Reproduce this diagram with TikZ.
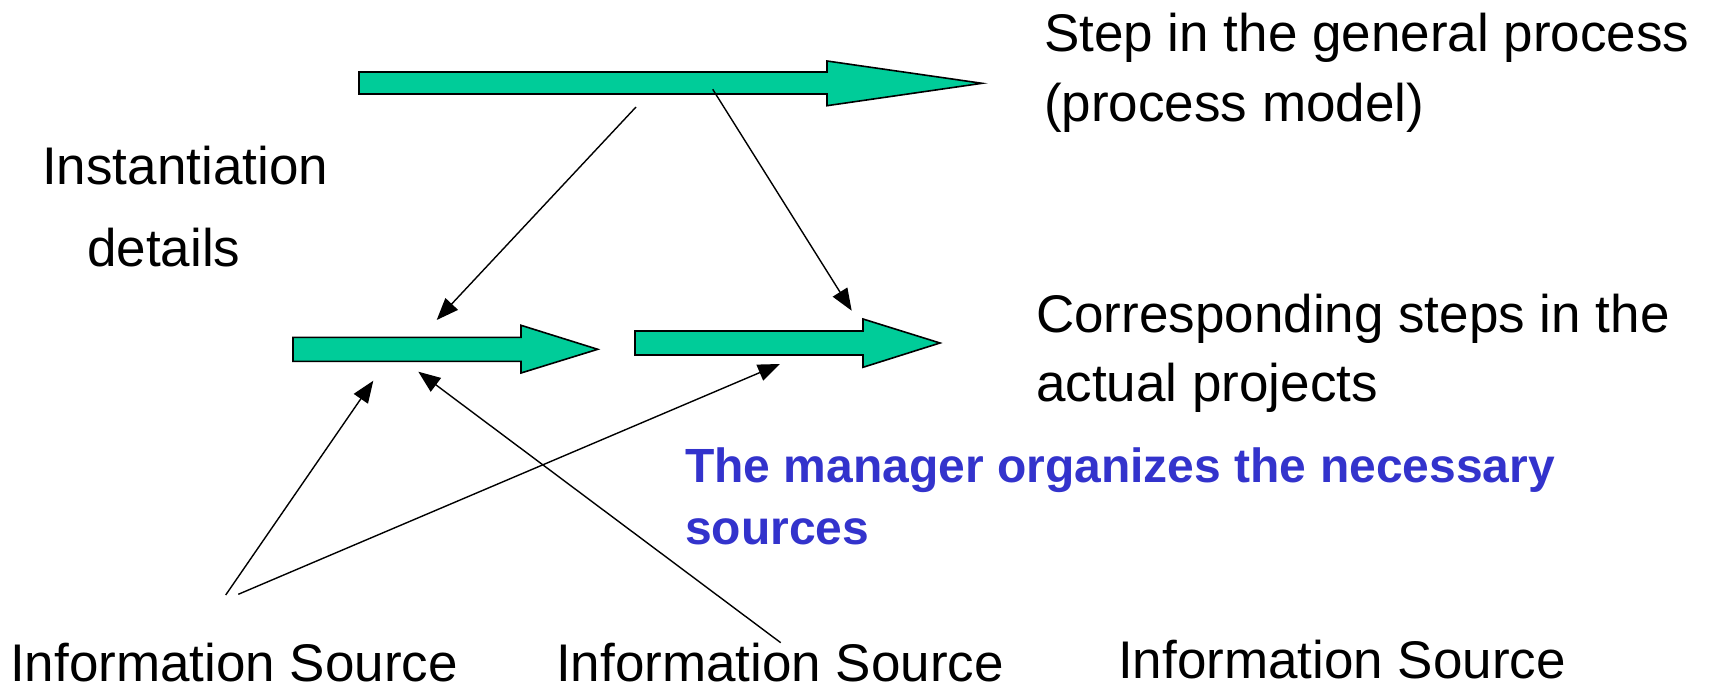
\documentclass[tikz,border=0pt]{standalone}
\usepackage{fontspec}
\setmainfont{Liberation Sans}
\usetikzlibrary{arrows.meta}
\definecolor{stepgreen}{HTML}{00CC99}
\definecolor{mgrblue}{HTML}{3333CC}
\tikzset{
  blockarrow/.style={fill=stepgreen, draw=black, line width=1.6pt, line join=miter},
  conn/.style={draw=black, line width=1.4pt, -{Triangle[length=22pt,width=17pt]}},
  lbl/.style={anchor=base west, inner sep=0pt, font=\fontsize{53}{64}\selectfont},
  mgr/.style={anchor=base west, inner sep=0pt, text=mgrblue, font=\fontsize{48}{58}\selectfont\bfseries}
}
\begin{document}
\begin{tikzpicture}[x=1pt,y=-1pt]
\useasboundingbox (0,0) rectangle (1711,687);
% block arrows
\filldraw[blockarrow] (359,72)--(827,72)--(827,61)--(982,83.3)--(827,105.7)--(827,94)--(359,94)--cycle;
\filldraw[blockarrow] (293,337.3)--(521,337.3)--(521,325.3)--(597.7,349.3)--(521,373)--(521,361.3)--(293,361.3)--cycle;
\filldraw[blockarrow] (635,331)--(863,331)--(863,319)--(940,343)--(863,367.3)--(863,355)--(635,355)--cycle;
% connector end points
\coordinate (c1s) at (636,107);
\coordinate (c1e) at (436.7,320);
\coordinate (c2s) at (712.7,89.3);
\coordinate (c2e) at (851.7,310.7);
\coordinate (c3s) at (225.7,595);
\coordinate (c3e) at (373.3,380.7);
\coordinate (c4s) at (238.3,594.3);
\coordinate (c4e) at (780,364);
\coordinate (c5s) at (780.7,642.7);
\coordinate (c5e) at (418.3,371.7);
\draw[conn] (c1s) -- (c1e);
\draw[conn] (c2s) -- (c2e);
\draw[conn] (c3s) -- (c3e);
\draw[conn] (c4s) -- (c4e);
\draw[conn] (c5s) -- (c5e);
% texts
\node[lbl] (stepA) at (1044,52) {Step in the general process};
\node[lbl] (stepB) at (1044,122) {(process model)};
\node[lbl] (instA) at (42,185) {Instantiation};
\node[lbl] (instB) at (87,266) {details};
\node[lbl] (corrA) at (1036,332) {Corresponding steps in the};
\node[lbl] (corrB) at (1036,401) {actual projects};
\node[mgr] (mgrA) at (685,482) {The manager organizes the necessary};
\node[mgr] (mgrB) at (685,544) {sources};
\node[lbl] (src1) at (10,681) {Information Source};
\node[lbl] (src2) at (556,681) {Information Source};
\node[lbl] (src3) at (1118,678) {Information Source};
\end{tikzpicture}
\end{document}
